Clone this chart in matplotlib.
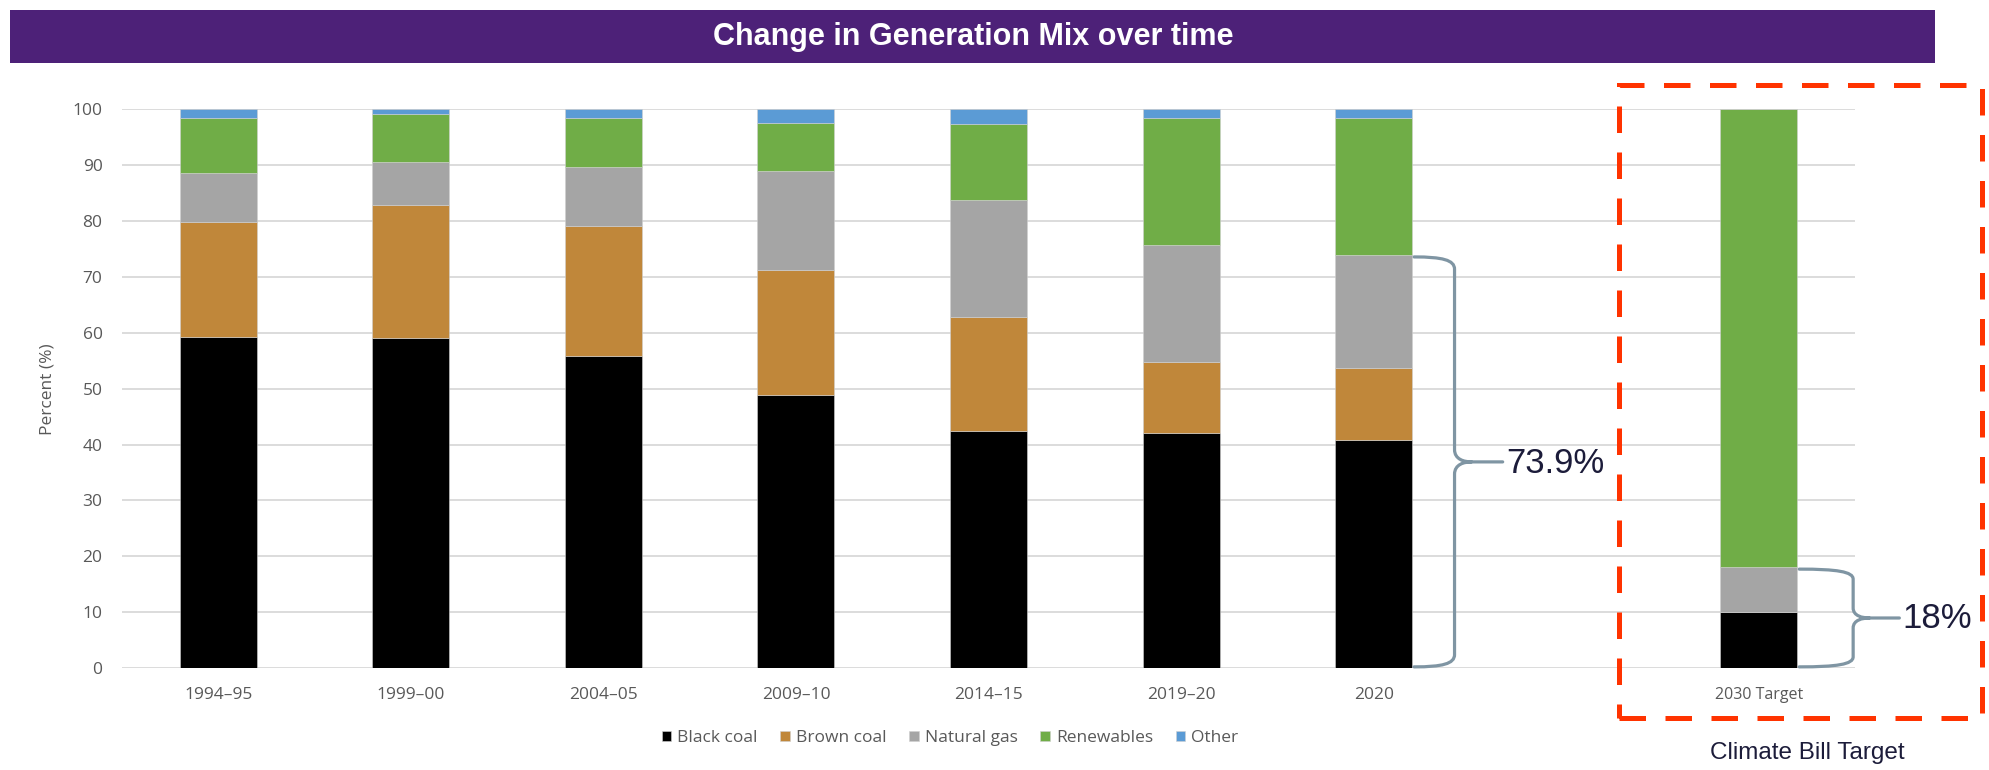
import numpy as np
import matplotlib.pyplot as plt
from matplotlib.patches import Rectangle, PathPatch
from matplotlib.path import Path

# data
periods = ['1994–95', '1999–00', '2004–05', '2009–10', '2014–15', '2019–20', '2020', '2030 Target']
positions = [0, 1, 2, 3, 4, 5, 6, 8]
black_coal = [59.3, 59.0, 55.8, 48.9, 42.4, 42.1, 40.9, 10.0]
brown_coal = [20.6, 23.9, 23.4, 22.3, 20.4, 12.7, 12.9, 0.0]
natural_gas = [8.7, 7.7, 10.5, 17.8, 21.0, 21.0, 20.1, 8.0]
renewables = [9.8, 8.6, 8.8, 8.6, 13.6, 22.6, 24.5, 82.0]
other = [1.6, 0.8, 1.5, 2.4, 2.6, 1.6, 1.6, 0.0]

series = ['Black coal', 'Brown coal', 'Natural gas', 'Renewables', 'Other']
colors = ['#000000', '#C0873A', '#A5A5A5', '#70AD47', '#5B9BD5']

fossil_2020 = 73.9
fossil_2030 = 18

tick_font = 'Open Sans'
grey_text = '#595959'
brace_col = '#7F95A3'
note_col = '#1C1C3A'

fig = plt.figure(figsize=(19.9, 7.7), dpi=100)
ax = fig.add_axes([0.0613, 0.1325, 0.8709, 0.7253])

bottom = np.zeros(len(positions))
for name, vals, c in zip(series, [black_coal, brown_coal, natural_gas, renewables, other], colors):
    ax.bar(positions, vals, width=0.4, bottom=bottom, color=c, label=name,
           edgecolor='#D0D0D0', linewidth=0.4, zorder=3)
    bottom += np.array(vals)

ax.set_xlim(-0.5, 8.5)
ax.set_ylim(0, 100)
ax.set_yticks(np.arange(0, 101, 10))
ax.set_xticks(positions)
ax.set_xticklabels(periods)
ax.grid(axis='y', color='#D9D9D9', linewidth=1.3, zorder=0)
ax.set_axisbelow(True)
for s in ax.spines.values():
    s.set_visible(False)
ax.tick_params(length=0, labelsize=12.5, labelcolor=grey_text, pad=14)
for lab in ax.get_xticklabels() + ax.get_yticklabels():
    lab.set_fontfamily(tick_font)
ax.get_xticklabels()[-1].set_fontsize(11.5)
ax.set_ylabel('Percent (%)', fontsize=12.5, color=grey_text, fontfamily=tick_font, labelpad=12)


def brace(x0, x1, xt, ybot, ytop, r):
    ymid = (ybot + ytop) / 2
    xm = x1 + 0.35 * (xt - x1)
    verts = [
        (x0, ytop), (x0 + 0.7 * (x1 - x0), ytop), (x1, ytop - 0.25 * r), (x1, ytop - r),
        (x1, ymid + r),
        (x1, ymid + 0.2 * r), (x1 + 0.2 * (xt - x1), ymid), (xm, ymid),
        (xt, ymid),
        (xm, ymid),
        (x1 + 0.2 * (xt - x1), ymid), (x1, ymid - 0.2 * r), (x1, ymid - r),
        (x1, ybot + r),
        (x1, ybot + 0.25 * r), (x0 + 0.7 * (x1 - x0), ybot), (x0, ybot),
    ]
    codes = [Path.MOVETO, Path.CURVE4, Path.CURVE4, Path.CURVE4,
             Path.LINETO,
             Path.CURVE4, Path.CURVE4, Path.CURVE4,
             Path.LINETO,
             Path.MOVETO,
             Path.CURVE4, Path.CURVE4, Path.CURVE4,
             Path.LINETO,
             Path.CURVE4, Path.CURVE4, Path.CURVE4]
    ax.add_patch(PathPatch(Path(verts, codes), fill=False, edgecolor=brace_col,
                           linewidth=2.3, clip_on=False, zorder=4, capstyle='round'))


brace(6.21, 6.42, 6.67, 0.2, fossil_2020 - 0.3, 2.2)
ax.text(6.69, 36.7, f'{fossil_2020}%', fontsize=25, color=note_col, va='center', ha='left',
        fontfamily='Liberation Sans')
brace(8.21, 8.49, 8.73, 0.2, fossil_2030 - 0.3, 1.8)
ax.text(8.745, 8.8, f'{fossil_2030}%', fontsize=25, color=note_col, va='center', ha='left',
        fontfamily='Liberation Sans')

leg = ax.legend(loc='center', bbox_to_anchor=(0.4774, 0.0416), bbox_transform=fig.transFigure,
                ncol=5, frameon=False, handlelength=0.55, handleheight=0.55, handletextpad=0.35,
                columnspacing=1.3, prop={'family': tick_font, 'size': 12.5})
for t in leg.get_texts():
    t.set_color(grey_text)

# title banner
fig.add_artist(Rectangle((0.005, 0.918), 0.9674, 0.069, transform=fig.transFigure,
                         facecolor='#4D2178', edgecolor='none'))
fig.text(0.489, 0.9525, 'Change in Generation Mix over time', color='white', fontsize=22,
         fontweight='bold', ha='center', va='center', fontfamily='Liberation Sans')

# dashed box round the target
fig.add_artist(Rectangle((0.8136, 0.0675), 0.1824, 0.8221, transform=fig.transFigure,
                         fill=False, edgecolor='#FF3300', linewidth=3.6,
                         linestyle=(0, (5.3, 3.9))))
fig.text(0.908, 0.0225, 'Climate Bill Target', color=note_col, fontsize=17.5,
         ha='center', va='center', fontfamily='Liberation Sans')

fig.savefig('out.png', dpi=100)
